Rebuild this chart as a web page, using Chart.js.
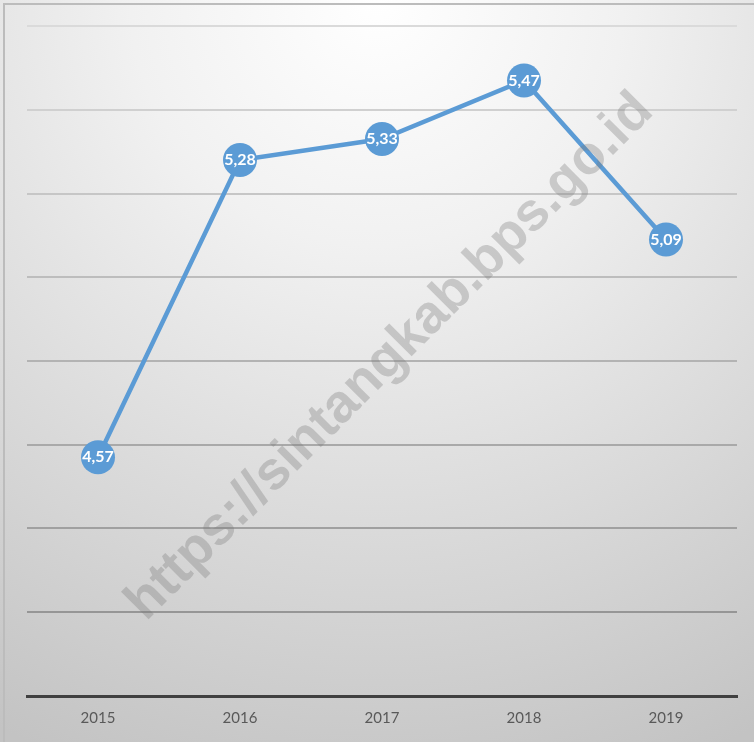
<!DOCTYPE html>
<html>
<head>
<meta charset="utf-8">
<script src="https://cdn.jsdelivr.net/npm/chart.js@4"></script>
<style>
  html, body { margin: 0; padding: 0; background: #ffffff; }
  #wrap { width: 754px; height: 742px; position: relative; }
</style>
</head>
<body>
<div id="wrap"><canvas id="c" width="754" height="742"></canvas></div>
<script>
const years = ['2015', '2016', '2017', '2018', '2019'];
const values = [4.57, 5.28, 5.33, 5.47, 5.09];
const valueLabels = ['4,57', '5,28', '5,33', '5,47', '5,09'];
const yMin = 4.0, yMax = 5.6, yStep = 0.2;
const watermark = 'https://sintangkab.bps.go.id';

const bgPlugin = {
  id: 'bg',
  beforeDraw(chart) {
    const ctx = chart.ctx;
    const w = chart.width, h = chart.height;
    ctx.save();
    const g = ctx.createRadialGradient(w * 0.5, 0, 0, w * 0.5, 0, 820);
    g.addColorStop(0, '#ffffff');
    g.addColorStop(0.3, '#f1f1f1');
    g.addColorStop(1, '#c3c3c3');
    ctx.fillStyle = g;
    ctx.fillRect(0, 0, w, h);
    ctx.fillStyle = '#bcbcbc';
    ctx.fillRect(3, 3, w - 3, 2);
    ctx.fillRect(3, 3, 2, h - 3);
    ctx.restore();
  }
};

const labelPlugin = {
  id: 'ptLabels',
  afterDatasetsDraw(chart) {
    const ctx = chart.ctx;
    const meta = chart.getDatasetMeta(0);
    ctx.save();
    ctx.fillStyle = '#ffffff';
    ctx.font = 'bold 16px Lato';
    ctx.textAlign = 'center';
    ctx.textBaseline = 'middle';
    meta.data.forEach((pt, i) => {
      ctx.fillText(valueLabels[i], pt.x, pt.y);
    });
    ctx.restore();
  }
};

const wmPlugin = {
  id: 'wm',
  afterDraw(chart) {
    const ctx = chart.ctx;
    ctx.save();
    ctx.translate(390, 357);
    ctx.rotate(-Math.PI / 4);
    ctx.font = 'bold 54px "Liberation Sans"';
    ctx.textAlign = 'center';
    ctx.textBaseline = 'middle';
    ctx.fillStyle = 'rgba(120,120,120,0.33)';
    ctx.fillText(watermark, 0, 0);
    ctx.restore();
  }
};

function gridColor(ctx) {
  const v = ctx.tick ? ctx.tick.value : yMin;
  const t = (v - yMin) / (yMax - yMin);
  const c = Math.round(140 + t * (218 - 140));
  return `rgb(${c},${c},${c})`;
}

new Chart(document.getElementById('c'), {
  type: 'line',
  data: {
    labels: years,
    datasets: [{
      data: values,
      borderColor: '#5b9bd5',
      backgroundColor: '#5b9bd5',
      borderWidth: 4.5,
      pointRadius: 17,
      pointHoverRadius: 17,
      pointBackgroundColor: '#5b9bd5',
      pointBorderColor: '#5b9bd5',
      pointBorderWidth: 0,
      tension: 0,
      fill: false
    }]
  },
  options: {
    responsive: false,
    animation: false,
    devicePixelRatio: 1,
    layout: { padding: { left: 27, right: 16, top: 26, bottom: 2 } },
    plugins: { legend: { display: false }, tooltip: { enabled: false } },
    scales: {
      x: {
        offset: true,
        grid: { display: false, drawTicks: false },
        border: { display: true, color: '#404040', width: 3 },
        ticks: { color: '#595959', font: { family: 'Lato', size: 15 }, padding: 13 }
      },
      y: {
        min: yMin, max: yMax,
        grid: { color: gridColor, lineWidth: 2, drawTicks: false },
        border: { display: false },
        ticks: { display: false, stepSize: yStep }
      }
    }
  },
  plugins: [bgPlugin, labelPlugin, wmPlugin]
});
</script>
</body>
</html>
